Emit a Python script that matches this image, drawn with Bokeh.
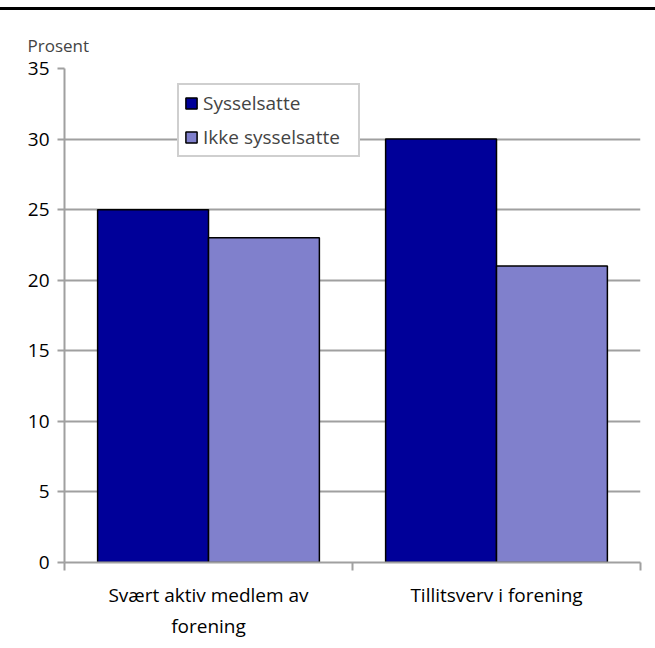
from bokeh.plotting import figure
from bokeh.models import (ColumnDataSource, Range1d, FactorRange, LinearAxis,
                          FixedTicker, SingleIntervalTicker, Legend, LegendItem)
from bokeh.transform import dodge
from bokeh.embed import file_html
from bokeh.resources import INLINE

categories = ["Svært aktiv medlem av forening", "Tillitsverv i forening"]
category_labels = {"Svært aktiv medlem av forening": "Svært aktiv medlem av\nforening",
                   "Tillitsverv i forening": "Tillitsverv i forening"}
series_names = ["Sysselsatte", "Ikke sysselsatte"]
sysselsatte = [25, 30]
ikke_sysselsatte = [23, 21]
y_ticks_interval = 5
y_max = 35

FONT = "Open Sans"
GRAY = "#a0a0a0"
DARK = "#000099"
LIGHT = "#8080cc"

src = ColumnDataSource(dict(cat=categories, s1=sysselsatte, s2=ikke_sysselsatte))

p = figure(x_range=FactorRange(*categories), y_range=Range1d(0, y_max),
           width=655, height=638, output_backend="svg", toolbar_location=None,
           x_axis_location=None, y_axis_location=None,
           min_border_left=64, min_border_right=15, min_border_top=58, min_border_bottom=86)
p.styles = {"margin-top": "7px", "border-top": "3px solid black"}
p.outline_line_color = None
p.xgrid.grid_line_color = None
p.ygrid.grid_line_color = GRAY
p.ygrid.grid_line_width = 2
p.ygrid.ticker = SingleIntervalTicker(interval=y_ticks_interval)

w = 0.385
r1 = p.vbar(x=dodge("cat", -w / 2, range=p.x_range), top="s1", width=w, source=src,
            fill_color=DARK, line_color="black", line_width=1.5)
r2 = p.vbar(x=dodge("cat", w / 2, range=p.x_range), top="s2", width=w, source=src,
            fill_color=LIGHT, line_color="black", line_width=1.5)

# y axis
yax = LinearAxis(ticker=SingleIntervalTicker(interval=y_ticks_interval))
yax.axis_line_color = GRAY
yax.axis_line_width = 2
yax.major_tick_line_color = GRAY
yax.major_tick_line_width = 2
yax.major_tick_in = 0
yax.major_tick_out = 7
yax.minor_tick_line_color = None
yax.major_label_text_font = FONT
yax.major_label_text_font_size = "19px"
yax.major_label_text_color = "black"
yax.major_label_standoff = 8
p.add_layout(yax, "left")

# x axis: labels at category centres, ticks at category boundaries
# (positions are the factor range's own synthetic coordinates)
n = len(categories)
centres = [i + 0.5 for i in range(n)]
xax = LinearAxis(ticker=FixedTicker(ticks=centres, minor_ticks=list(range(n + 1))))
xax.major_label_overrides = {c: category_labels[cat] for c, cat in zip(centres, categories)}
xax.axis_line_color = GRAY
xax.axis_line_width = 2
xax.major_tick_line_color = None
xax.major_tick_in = 0
xax.major_tick_out = 0
xax.minor_tick_line_color = GRAY
xax.minor_tick_line_width = 2
xax.minor_tick_in = 0
xax.minor_tick_out = 8
xax.major_label_text_font = FONT
xax.major_label_text_font_size = "19px"
xax.major_label_text_color = "black"
xax.major_label_standoff = 11
p.add_layout(xax, "below")

p.title.text = "Prosent"
p.title.align = "left"
p.title.offset = -37
p.title.text_font = FONT
p.title.text_font_size = "17px"
p.title.text_font_style = "normal"
p.title.standoff = 24

legend = Legend(items=[LegendItem(label=series_names[0], renderers=[r1]),
                       LegendItem(label=series_names[1], renderers=[r2])],
                location=(113, 405))
legend.border_line_color = GRAY
legend.border_line_width = 2
legend.background_fill_color = "white"
legend.background_fill_alpha = 1
legend.label_text_font = FONT
legend.label_text_font_size = "19px"
legend.label_height = 20
legend.label_width = 150
legend.glyph_width = 14
legend.glyph_height = 14
legend.label_standoff = 5
legend.padding = 5
legend.spacing = 8
legend.margin = 0
p.add_layout(legend, "center")

open("out.html", "w").write(file_html(p, INLINE))
